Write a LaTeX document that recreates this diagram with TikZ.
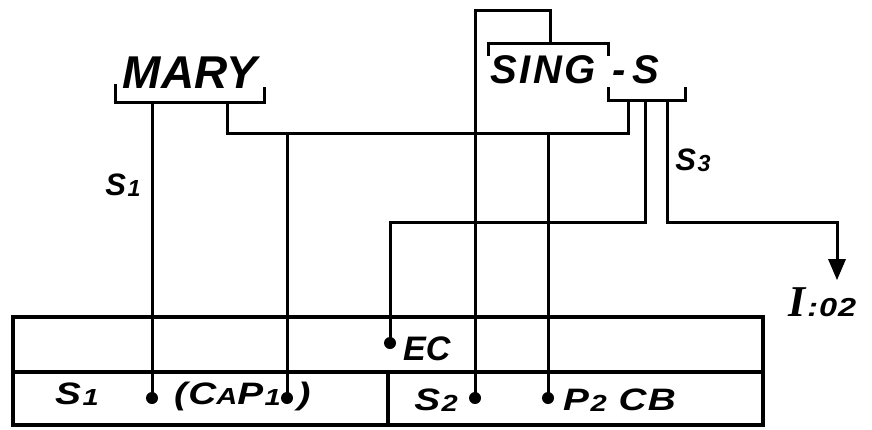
\documentclass[tikz,border=0pt]{standalone}
\usepackage{fontspec}
\setmainfont{Liberation Sans}
\newfontfamily\hand[LetterSpace=6]{Liberation Sans}
\newfontfamily\wide[FakeStretch=1.25, LetterSpace=4]{Liberation Sans}
\newfontfamily\serifit{Liberation Serif}
\newcommand{\lowsub}[1]{\kern1.5pt\raisebox{-0.04em}{\scalebox{0.75}{#1}}}

\begin{document}
\begin{tikzpicture}[x=1pt,y=-1pt]
\tikzstyle{every node}+=[inner sep=0pt]
\tikzstyle{wire}=[line width=3pt]
\tikzstyle{frame}=[line width=3.6pt]
\tikzstyle{dot}=[circle, fill=black, minimum size=12pt]
\tikzstyle{word}=[anchor=base, font=\fontsize{46}{50}\selectfont\bfseries\itshape]
\tikzstyle{tag}=[anchor=base, font=\fontsize{31}{34}\selectfont\itshape\bfseries]
\tikzstyle{cell}=[anchor=base, font=\wide\fontsize{31}{36}\selectfont\bfseries\itshape]
\useasboundingbox (0,0) rectangle (872,429);

% words and their brackets
\node [word] (mary) at (190,88) {MARY};
\node [word, font=\hand\fontsize{40}{44}\selectfont\bfseries\itshape] (sing) at (543,83) {SING};
\node [word, anchor=base west, font=\fontsize{40}{44}\selectfont\bfseries\itshape] (suff) at (612,83) {-\kern7pt S};
\draw [wire] (115,84) -- (115,102) -- (264,102) -- (264,87);
\draw [wire] (488,56) -- (488,43) -- (608,43) -- (608,56);
\draw [wire] (608,87) -- (608,100) -- (685,100) -- (685,87);

% attachment points
\coordinate (m1) at (152,102);
\coordinate (m2) at (227,102);
\coordinate (g) at (550,43);
\coordinate (s1) at (628,100);
\coordinate (s2) at (645,100);
\coordinate (s3) at (667,100);
\coordinate (j) at (628,133);
\coordinate (tip) at (837,280);

% table
\draw [frame] (13,317) rectangle (763,425);
\draw [frame] (13,372) -- (763,372);
\draw [frame] (388,372) -- (388,425);

% dots
\node [dot] (d1) at (152,398) {};
\node [dot] (d2) at (287,398) {};
\node [dot] (d3) at (390,343) {};
\node [dot] (d4) at (475,398) {};
\node [dot] (d5) at (548,398) {};

% lines
\draw [wire] (m1) -- (d1.center);
\draw [wire] (m2) -- (227,133) -| (s1);
\draw [wire] (d2 |- j) -- (d2.center);
\draw [wire] (g) -- (550,10) -| (d4.center);
\draw [wire] (d5 |- j) -- (d5.center);
\draw [wire] (s2) -- (645,222) -| (d3.center);
\draw [wire] (s3) -- (667,222) -| (837,262);
\fill [black] (tip) -- (828,259) -- (846,259) -- cycle;

% labels
\node [tag] (t1) at (123,195) {S\lowsub{1}};
\node [tag] (t3) at (693,170) {S\lowsub{3}};
\node [tag, anchor=base west] (out) at (788,316) {{\serifit\fontsize{44}{48}\selectfont I}\kern2pt{\wide\fontsize{26}{30}\selectfont :\kern1pt02}};
\node [cell] (c1) at (77,404) {S\lowsub{1}};
\node [cell, anchor=base east] (c2) at (281,404) {(C\scalebox{0.75}{A}P\lowsub{1}};
\node [cell] (c3) at (304,404) {)};
\node [cell, anchor=base west, font=\fontsize{34}{38}\selectfont\bfseries\itshape] (ec) at (403,360) {EC};
\node [cell] (c4) at (436,410) {S\lowsub{2}};
\node [cell, anchor=base west] (c5) at (563,410) {P\lowsub{2} CB};
\end{tikzpicture}
\end{document}
